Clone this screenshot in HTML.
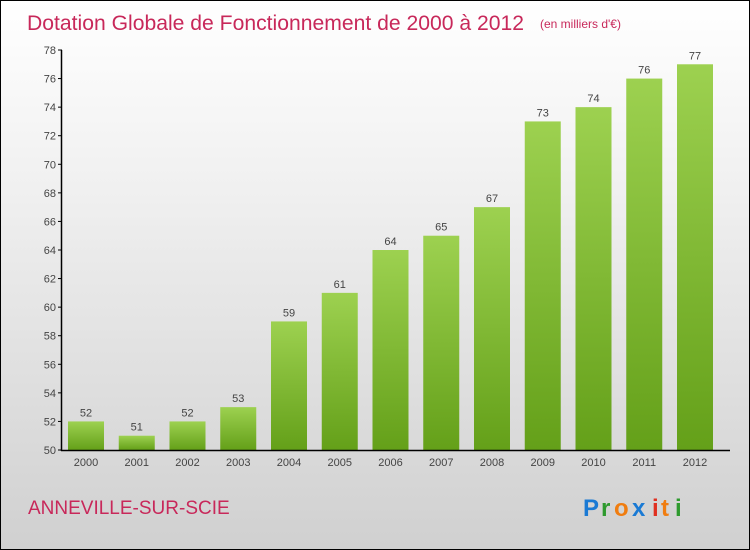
<!DOCTYPE html>
<html><head><meta charset="utf-8"><style>
body{margin:0}
#c{width:750px;height:550px;position:relative;box-sizing:border-box;border:1px solid #000;background:linear-gradient(#ffffff,#f2f2f2 30%,#d0d0d0);font-family:"Liberation Sans",sans-serif;overflow:hidden}
</style></head><body>
<div id="c">
<svg id="s" width="750" height="550" style="position:absolute;left:-1px;top:-1px">
<defs><linearGradient id="g" x1="0" y1="0" x2="0" y2="1"><stop offset="0" stop-color="#9dd150"/><stop offset="1" stop-color="#64a019"/></linearGradient></defs>
<text x="27" y="30" font-size="21" textLength="497" lengthAdjust="spacingAndGlyphs" fill="#c8285a">Dotation Globale de Fonctionnement de 2000 à 2012</text>
<text x="540" y="28" font-size="12" fill="#c8285a">(en milliers d'€)</text>
<text x="28" y="514" font-size="19" fill="#c8285a">ANNEVILLE-SUR-SCIE</text>
<g font-size="24" font-weight="bold"><text x="583" y="516" fill="#1a7ad4">P</text><text x="601" y="516" fill="#2e9a2e">r</text><text x="614" y="516" fill="#f07d10">o</text><text x="632" y="516" fill="#1a7ad4">x</text><text x="652" y="516" fill="#e03020">i</text><text x="661" y="516" fill="#f07d10">t</text><text x="675" y="516" fill="#2e9a2e">i</text></g>
</svg>
</div>
<script>
const years=["2000","2001","2002","2003","2004","2005","2006","2007","2008","2009","2010","2011","2012"];
const values=[52,51,52,53,59,61,64,65,67,73,74,76,77];
const yTicks=[50,52,54,56,58,60,62,64,66,68,70,72,74,76,78];
const s=document.getElementById('s');const NS="http://www.w3.org/2000/svg";
function y(v){return 450-(v-50)*400/28;}
function x(i){return 86+i*50.75;}
function mk(t,a,p){const e=document.createElementNS(NS,t);for(const k in a)e.setAttribute(k,a[k]);(p||s).appendChild(e);return e;}
yTicks.forEach(v=>{
 const t=mk('text',{x:56,y:y(v)+4,'font-size':11,fill:'#444','text-anchor':'end'});t.textContent=v;
 
 
 const l=mk('line',{x1:58,x2:62,y1:y(v),y2:y(v),stroke:'#000'});
 
 
});
values.forEach((v,i)=>{
 const r=mk('rect',{x:x(i)-18,y:y(v),width:36,height:450-y(v),fill:'url(#g)'});
 
 
 const t=mk('text',{x:x(i),y:y(v)-5,'font-size':11,fill:'#444','text-anchor':'middle'});t.textContent=v;
 
 
 const xl=mk('text',{x:x(i),y:466,'font-size':11,fill:'#444','text-anchor':'middle'});xl.textContent=years[i];
 
 
});
const ya=mk('line',{x1:61.5,x2:61.5,y1:y(78),y2:451,stroke:'#000','stroke-width':1.5});


const xa=mk('line',{x1:61,x2:730,y1:450.5,y2:450.5,stroke:'#000','stroke-width':1.5});


</script>
</body></html>
